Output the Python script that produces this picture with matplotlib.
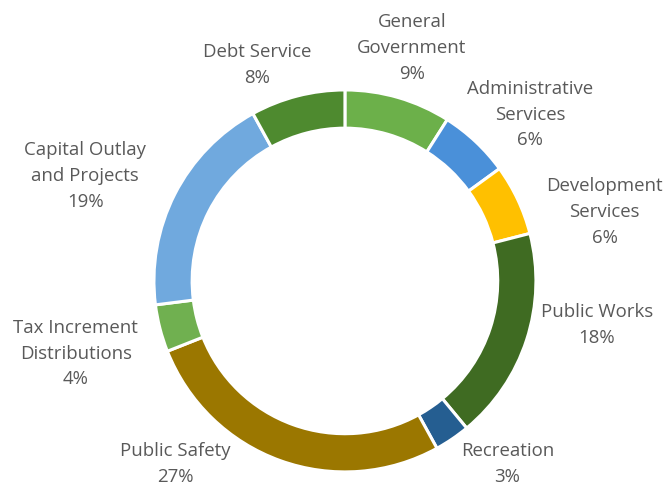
import matplotlib
matplotlib.use("Agg")
import matplotlib.pyplot as plt

plt.rcParams['font.family'] = ['Open Sans', 'DejaVu Sans']

# spending categories, clockwise from 12 o'clock
categories = ["General\nGovernment", "Administrative\nServices", "Development\nServices",
              "Public Works", "Recreation", "Public Safety",
              "Tax Increment\nDistributions", "Capital Outlay\nand Projects", "Debt Service"]
shares = [9, 6, 6, 18, 3, 27, 4, 19, 8]
colors = ["#6cb04a", "#4a90d9", "#ffc000", "#3f6b22", "#255e91",
          "#9b7700", "#70b050", "#70a9de", "#4e8a2f"]

# label centres, in units of the outer radius
label_pos = [(0.35, 1.22), (0.97, 0.87), (1.36, 0.36), (1.32, -0.23), (0.85, -0.96),
             (-0.89, -0.96), (-1.41, -0.38), (-1.36, 0.55), (-0.46, 1.13)]

fig = plt.figure(figsize=(6.66, 4.87), dpi=100)
ax = fig.add_axes([0, 0, 1, 1])

wedges, _ = ax.pie(shares, colors=colors, startangle=90, counterclock=False,
                   radius=1.0, wedgeprops=dict(width=0.2, edgecolor="white", linewidth=2.2))

for name, val, (x, y) in zip(categories, shares, label_pos):
    ax.text(x, y, f"{name}\n{val}%", ha="center", va="center", fontsize=13.4,
            color="#595959", linespacing=1.55)

ax.set_xlim(-1.806, 1.681)
ax.set_ylim(-1.079, 1.471)
ax.set_aspect("auto")
ax.axis("off")

fig.savefig("out.png", dpi=100)
